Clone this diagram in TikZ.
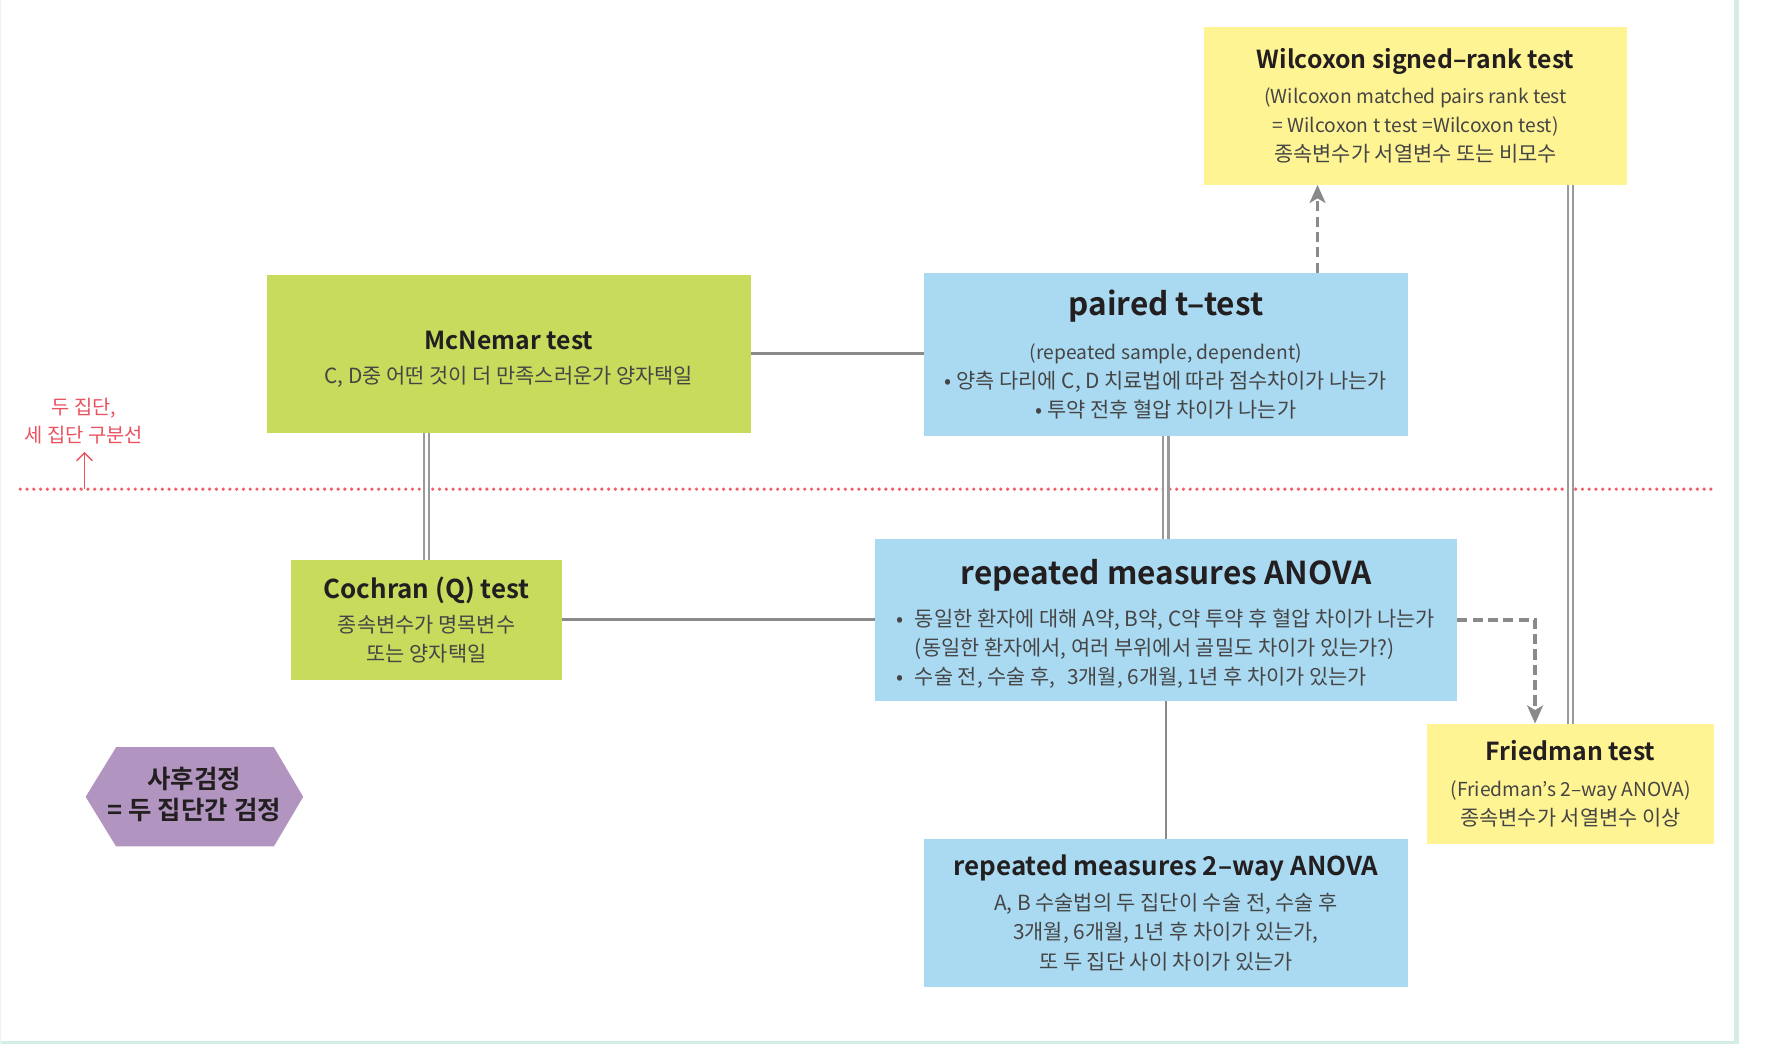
\documentclass[tikz,border=0pt]{standalone}
\usepackage{fontspec}
\setmainfont{Noto Sans CJK KR}[BoldFont={Noto Sans CJK KR Bold}]
\usetikzlibrary{arrows.meta}
\definecolor{boxyellow}{HTML}{FFF493}
\definecolor{boxblue}{HTML}{AADAF2}
\definecolor{boxgreen}{HTML}{C8DB5C}
\definecolor{hexpurple}{HTML}{B194BF}
\definecolor{titleblack}{HTML}{231F20}
\definecolor{bodygray}{HTML}{454545}
\definecolor{linegray}{HTML}{8A8A8C}
\definecolor{dblgray}{HTML}{9A9A9D}
\definecolor{dotred}{HTML}{EF5D69}
\definecolor{labelred}{HTML}{E8535F}
\definecolor{borderteal}{HTML}{D4EDE7}
\newcommand\bodyf{\fontsize{9.25pt}{13pt}\selectfont}
\newcommand\latf{\fontsize{8.55pt}{13pt}\selectfont}
\newcommand\titf[1]{\fontsize{#1}{#1}\selectfont\bfseries\color{titleblack}}
\begin{document}
\begin{tikzpicture}[x=0.5pt,y=-0.5pt,
  box/.style={rectangle,inner sep=0pt,outer sep=0pt,align=center,text=bodygray,font=\bodyf},
  ybox/.style={box,fill=boxyellow},
  bbox/.style={box,fill=boxblue},
  gbox/.style={box,fill=boxgreen},
  solidconn/.style={draw=linegray,line width=1.25pt},
  dblconn/.style={draw=dblgray,line width=1pt,double=white,double distance=1.3pt},
  dashconn/.style={draw=linegray,line width=1.5pt,dash pattern=on 4.5pt off 2.3pt,-{Stealth[length=8pt,width=7pt,inset=2pt]}},
  reddots/.style={draw=dotred,line width=1.6pt,line cap=round,dash pattern=on 0pt off 3pt},
  redarrow/.style={draw=labelred,line width=0.6pt,-{Straight Barb[length=3.5pt,width=7pt]}}]
\useasboundingbox (0,0) rectangle (1567.8,926.3);
% frame
\fill[borderteal] (1538.5,0) rectangle (1543,926.3);
\fill[borderteal] (0,923.5) rectangle (1543,926.3);
\fill[borderteal!50] (0,0) rectangle (1.2,926.3);
% dividing line
\coordinate (dotL) at (18,434);
\coordinate (dotR) at (1520,434);
\draw[reddots] (dotL) -- (dotR);
\coordinate (ra0) at (75,434);
\coordinate (ra1) at (75,401);
\draw[redarrow] (ra0) -- (ra1);
\node[align=center,font=\fontsize{8.8pt}{12.5pt}\selectfont,text=labelred] (lbl) at (74.5,373.5) {두 집단,\\세 집단 구분선};
% boxes
\node[ybox,minimum width=188pt,minimum height=70pt] (wil) at (1256,94)
  {{\titf{11}Wilcoxon signed–rank test}\\[2.5pt] {\latf(Wilcoxon matched pairs rank test}\\ {\latf= Wilcoxon t test =Wilcoxon test)}\\ 종속변수가 서열변수 또는 비모수};
\node[bbox,minimum width=214.5pt,minimum height=72.5pt] (pair) at (1034.5,314.5)
  {{\titf{14}paired t–test}\\[6.5pt] {\latf(repeated sample, dependent)}\\ • 양측 다리에 C, D 치료법에 따라 점수차이가 나는가\\ • 투약 전후 혈압 차이가 나는가};
\node[gbox,minimum width=214.5pt,minimum height=70pt] (mcn) at (451.5,314)
  {{\titf{11}\rule{0pt}{13pt}McNemar test}\\[2.3pt] C, D중 어떤 것이 더 만족스러운가 양자택일};
\node[gbox,minimum width=120.5pt,minimum height=53pt] (coch) at (378.5,550)
  {{\titf{11.5}Cochran (Q) test}\\[2pt] 종속변수가 명목변수\\ 또는 양자택일};
\node[bbox,minimum width=258.5pt,minimum height=72pt] (rm) at (1034.5,550)
  {{\titf{14}\rule{0pt}{17pt}repeated measures ANOVA}\\[5.5pt]\begin{tabular}[t]{@{}l@{}}\makebox[8pt][l]{•}동일한 환자에 대해 A약, B약, C약 투약 후 혈압 차이가 나는가\\ \hspace*{8pt}(동일한 환자에서, 여러 부위에서 골밀도 차이가 있는가?)\\ \makebox[8pt][l]{•}수술 전, 수술 후,\hspace{3pt} 3개월, 6개월, 1년 후 차이가 있는가\end{tabular}};
\node[ybox,minimum width=127.5pt,minimum height=53.5pt] (fri) at (1393.5,695.5)
  {{\titf{11}Friedman test}\\[3pt] {\latf(Friedman’s 2–way ANOVA)}\\ 종속변수가 서열변수 이상};
\node[bbox,minimum width=214.5pt,minimum height=66pt] (two) at (1034.5,810)
  {{\titf{11.5}repeated measures 2–way ANOVA}\\[2.5pt] A, B 수술법의 두 집단이 수술 전, 수술 후\\ 3개월, 6개월, 1년 후 차이가 있는가,\\ 또 두 집단 사이 차이가 있는가};
% hexagon
\fill[hexpurple] (76,707) -- (103,663) -- (243,663) -- (269,707) -- (243,751) -- (103,751) -- cycle;
\node[align=center,font=\fontsize{11.3pt}{14pt}\selectfont\bfseries,text=titleblack] (hex) at (172.5,705) {사후검정\\= 두 집단간 검정};
% connectors
\draw[solidconn] (mcn.east) -- (mcn.east -| pair.west);
\draw[dblconn] (coch.north) -- (coch.north |- mcn.south);
\draw[dblconn] (pair.south) -- (rm.north);
\draw[solidconn] (coch.east) -- (coch.east -| rm.west);
\draw[solidconn] (rm.south) -- (two.north);
\coordinate (wx) at (1169,0);
\draw[dashconn] (pair.north -| wx) -- (wil.south -| wx);
\coordinate (fx) at (1362,0);
\draw[dashconn] (rm.east) -| (fx |- fri.north);
\draw[dblconn] (fri.north) -- (fri.north |- wil.south);
\end{tikzpicture}
\end{document}
